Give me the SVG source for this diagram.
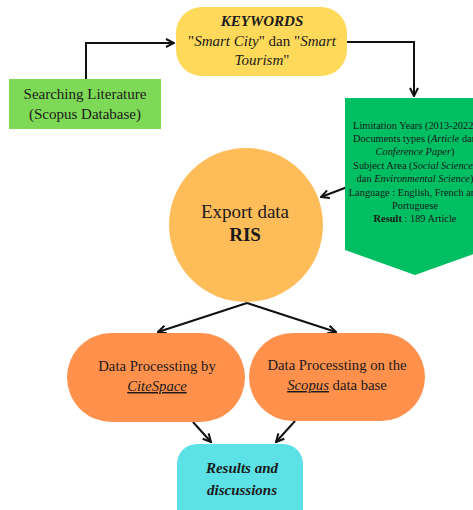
<svg xmlns="http://www.w3.org/2000/svg" width="473" height="510" viewBox="0 0 473 510">
<defs>
<marker id="ah" viewBox="0 0 10 10" refX="9" refY="5" markerWidth="5" markerHeight="5" orient="auto-start-reverse"><path d="M1,1 L9,5 L1,9" fill="none" stroke="#111" stroke-width="2"/></marker>
</defs>
<style>
text{fill:#1a1a1a;text-anchor:middle}
.c{fill:none;stroke:#111;stroke-width:2}
.sm{font-size:10.4px}
</style>
<rect width="473" height="510" fill="#fff"/>
<g id="connectors">
<path class="c" d="M86,79 V43 H174" marker-end="url(#ah)"/>
<path class="c" d="M347,42 H414 V96" marker-end="url(#ah)"/>
<path class="c" d="M350,186 L321,197" marker-end="url(#ah)"/>
<path class="c" d="M247,303 L158,332" marker-end="url(#ah)"/>
<path class="c" d="M247,303 L336,332" marker-end="url(#ah)"/>
<path class="c" d="M193,422 L211,442" marker-end="url(#ah)"/>
<path class="c" d="M295,421 L276,442" marker-end="url(#ah)"/>
</g>
<g font-family="'Liberation Serif', 'Times New Roman', serif">
<g id="keywords">
<rect x="176" y="7" width="171" height="69" rx="26" fill="#FFD95A"/>
<text x="262" y="26" font-size="15" font-weight="bold" font-style="italic">KEYWORDS</text>
<text x="262" y="46" font-size="15">"<tspan font-style="italic">Smart City</tspan>" dan "<tspan font-style="italic">Smart</tspan></text>
<text x="262" y="65" font-size="15"><tspan font-style="italic">Tourism</tspan>"</text>
</g>
<g id="searching">
<rect x="9" y="79" width="152" height="50" fill="#7ED957"/>
<text x="85" y="99" font-size="15">Searching Literature</text>
<text x="85" y="119" font-size="15">(Scopus Database)</text>
</g>
<g id="limitation">
<path d="M345,98 H485 V250 L415,275 L345,250 Z" fill="#00BF63"/>
<text class="sm" x="415" y="129">Limitation Years (2013-2022)</text>
<text class="sm" x="415" y="142">Documents types (<tspan font-style="italic">Article</tspan> dan</text>
<text class="sm" x="415" y="155" font-style="italic">Conference Paper<tspan font-style="normal">)</tspan></text>
<text class="sm" x="415" y="169">Subject Area (<tspan font-style="italic">Social Sciences</tspan></text>
<text class="sm" x="415" y="182">dan <tspan font-style="italic">Environmental Science</tspan>)</text>
<text class="sm" x="415" y="196">Language : English, French and</text>
<text class="sm" x="415" y="209">Portuguese</text>
<text class="sm" x="415" y="222"><tspan font-weight="bold">Result</tspan> : 189 Article</text>
</g>
<g id="export">
<circle cx="246" cy="225" r="77" fill="#FFBD59"/>
<text x="245" y="218" font-size="19">Export data</text>
<text x="245" y="241" font-size="19" font-weight="bold">RIS</text>
</g>
<g id="citespace">
<rect x="67" y="333" width="178" height="89" rx="44.5" fill="#FF914D"/>
<text x="157" y="371" font-size="14.7">Data Processting by</text>
<text x="157" y="391" font-size="14.7" font-style="italic" text-decoration="underline">CiteSpace</text>
</g>
<g id="scopus">
<rect x="249" y="333" width="176" height="88" rx="44" fill="#FF914D"/>
<text x="337" y="370" font-size="14.7">Data Processting on the</text>
<text x="337" y="390" font-size="14.7"><tspan font-style="italic" text-decoration="underline">Scopus</tspan> data base</text>
</g>
<g id="results">
<rect x="177" y="444" width="126" height="90" rx="20" fill="#5CE1E6"/>
<text x="242" y="473" font-size="15" font-weight="bold" font-style="italic">Results and</text>
<text x="242" y="495" font-size="15" font-weight="bold" font-style="italic">discussions</text>
</g>
</g>
</svg>
